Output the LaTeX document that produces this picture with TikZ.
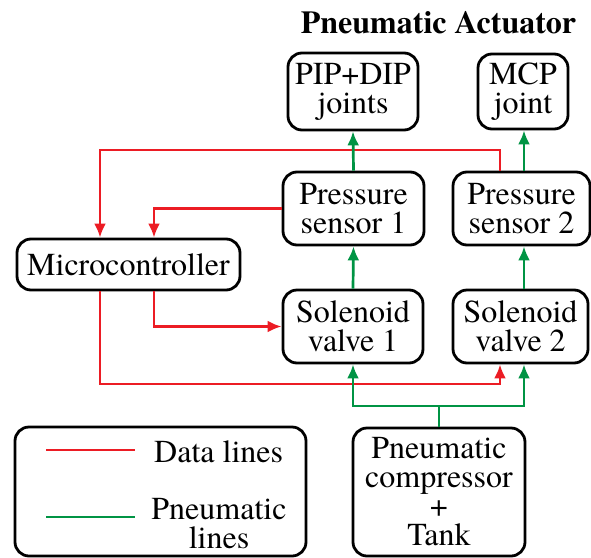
\documentclass[tikz,border=0pt]{standalone}
\usepackage{fontspec}
\setmainfont{texgyretermes}[Extension=.otf, UprightFont=*-regular, BoldFont=*-bold, ItalicFont=*-italic, BoldItalicFont=*-bolditalic]
\usetikzlibrary{arrows.meta}
\definecolor{datared}{RGB}{236,28,36}
\definecolor{airgreen}{RGB}{0,148,68}
\begin{document}
\begin{tikzpicture}[x=1pt,y=-1pt,
    txt/.style={font=\fontsize{32}{29}\selectfont},
    box/.style={txt, draw, line width=2.8pt, rounded corners=14pt, align=center, inner sep=0pt},
    data/.style={draw=datared, line width=2.7pt, -{Latex[length=14pt,width=12pt]}},
    air/.style={draw=airgreen, line width=2.7pt, -{Latex[length=14pt,width=12pt]}}]
            \useasboundingbox (0,0) rectangle (591,557);
            \node[txt, font=\bfseries\fontsize{32}{29}\selectfont, anchor=base] (title) at (438.5,33) {Pneumatic Actuator};
            \node[box, minimum width=130pt, minimum height=77pt] (pip) at (353,91.5) {PIP+DIP\\joints};
            \node[box, minimum width=90pt, minimum height=75pt] (mcp) at (523,91.5) {MCP\\joint};
            \node[box, minimum width=141pt, minimum height=73pt] (ps1) at (353.5,208.5) {Pressure\\sensor 1};
            \node[box, minimum width=137pt, minimum height=73pt] (ps2) at (521.5,208.5) {Pressure\\sensor 2};
            \node[box, minimum width=223pt, minimum height=51pt] (micro) at (128.5,264.5) {Microcontroller};
            \node[box, minimum width=140pt, minimum height=73pt] (sv1) at (353,326.5) {Solenoid\\valve 1};
            \node[box, minimum width=135pt, minimum height=73pt] (sv2) at (520.5,326.5) {Solenoid\\valve 2};
            \node[box, minimum width=172pt, minimum height=128pt] (comp) at (439,492) {Pneumatic\\compressor\\+\\Tank};
            \node[box, minimum width=291pt, minimum height=129pt] (legend) at (160.5,491.5) {};
            \node[txt, anchor=base west, inner sep=0pt] (ldata) at (154,462) {Data lines};
            \node[txt, align=center, inner sep=0pt] (lair) at (219,524) {Pneumatic\\lines};
            \coordinate (ca) at (100,384);
            \coordinate (cb) at (154,326.5);
            \coordinate (cc) at (500,150);
            \coordinate (gg) at (439,406);
            \coordinate (gr) at (524,406);
            \draw[data] (ps2.north -| cc) -- (cc) -- (cc -| ca) -- (micro.north -| ca);
            \draw[data] (ps1.west) -| (micro.north -| cb);
            \draw[data] (micro.south -| cb) |- (sv1.west);
            \draw[data] (micro.south -| ca) -- (ca) -| (sv2.south -| cc);
            \draw[air] (sv1.north) -- (ps1.south);
            \draw[air] (ps1.north) -- (pip.south);
            \draw[air] (sv2.north -| gr) -- (ps2.south -| gr);
            \draw[air] (ps2.north -| gr) -- (mcp.south -| gr);
            \draw[air] (comp.north) -- (gg) -| (sv1.south);
            \draw[air] (comp.north) -- (gg) -| (sv2.south -| gr);
            \draw[datared, line width=2.7pt] (46,450) -- (135,450);
            \draw[airgreen, line width=2.7pt] (46,517) -- (135,517);
\end{tikzpicture}
\end{document}
